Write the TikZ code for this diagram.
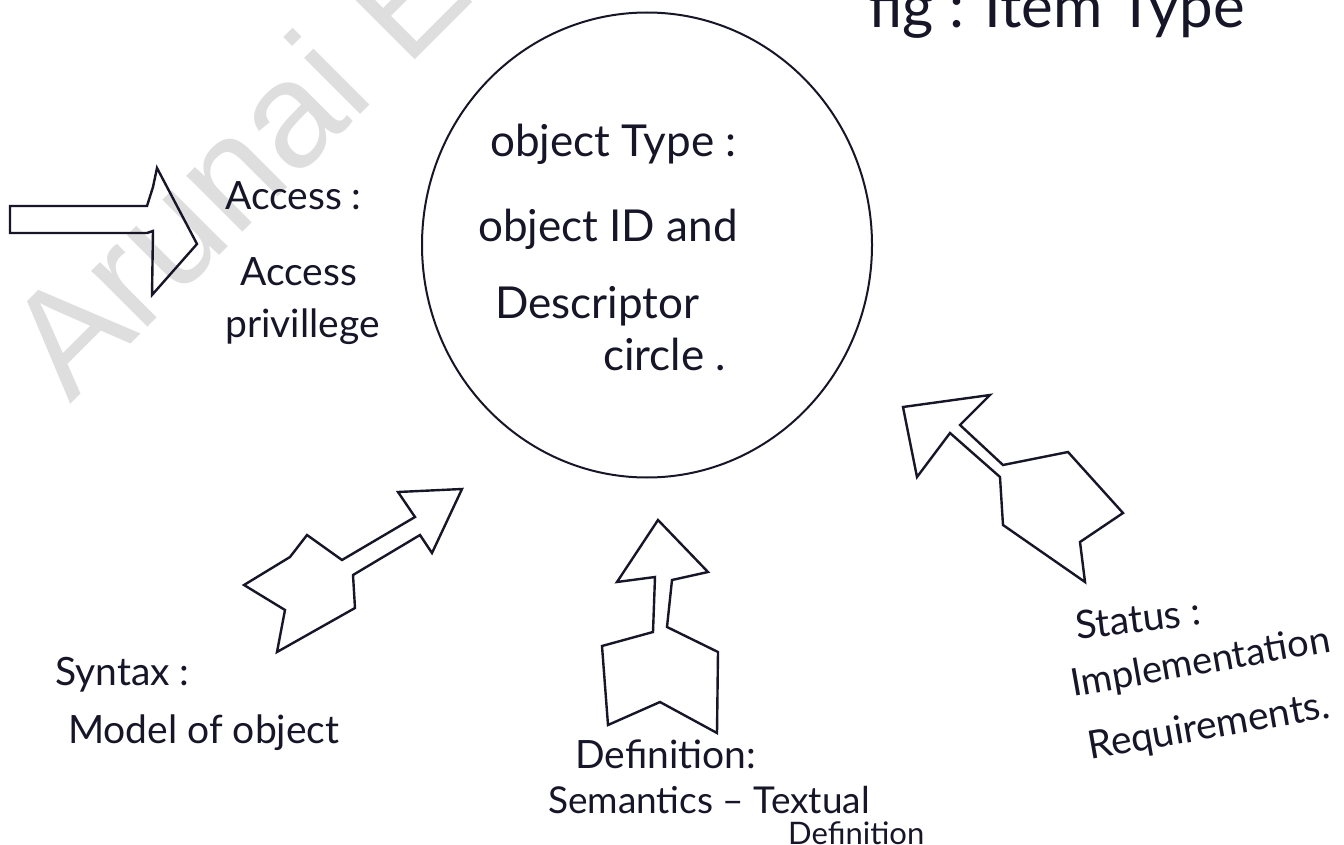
\documentclass[tikz,border=0pt]{standalone}
\usepackage{fontspec}
\usetikzlibrary{shapes.geometric}
\setmainfont{Lato}
\newfontfamily\wmfont{Liberation Sans}
\definecolor{ink}{RGB}{22,22,40}
\definecolor{wmgray}{RGB}{222,222,222}
\tikzset{
  shapeline/.style={draw=ink, line width=2.4pt, line join=miter, line cap=round},
  hand/.style={text=ink, inner sep=0pt, anchor=base west, font=\fontsize{39}{44}\selectfont},
  inhand/.style={hand, font=\fontsize{44}{50}\selectfont},
  wmark/.style={text=wmgray, inner sep=0pt, anchor=base west, font=\wmfont\fontsize{150}{150}\selectfont}
}
\begin{document}
\begin{tikzpicture}[x=1pt, y=-1pt]
\useasboundingbox (0,0) rectangle (1344,845);
\fill[white] (0,0) rectangle (1344,845);
\begin{scope}
\clip (0,0) rectangle (1344,845);

% faint watermark across the upper left
\node[wmark, rotate=45] (wm) at (70,405) {Arunai Engineering College};

% partly visible caption at the top
\node[hand, font=\fontsize{60}{64}\selectfont] (fig) at (868,28) {fig : Item Type};

% descriptor circle
\node[draw=ink, line width=2pt, ellipse, minimum width=450pt, minimum height=465pt, inner sep=0pt] (circ) at (647,245) {};
\node[inhand] (ot1) at (490,157) {object Type :};
\node[inhand] (ot2) at (478,242) {object ID and};
\node[inhand] (ot3) at (495,318) {Descriptor};
\node[inhand] (ot4) at (603,370) {circle .};

% access arrow (left)
\draw[shapeline] (10,233) -- (10,206) -- (147,206) -- (153,187) -- (157,168)
  -- (197,244) -- (152,295) -- (153,231) -- (147,233) -- cycle;
\node[hand] (ac1) at (225,210) {Access :};
\node[hand] (ac2) at (240,285) {Access};
\node[hand] (ac3) at (225,337) {privillege};

% syntax arrow (lower left)
\draw[shapeline] (244,585) -- (290,557) -- (307,535) -- (342,560) -- (415,517)
  -- (398,492) -- (462,489) -- (432,553) -- (420,535) -- (353,575) -- (355,608)
  -- (277,652) -- (285,610) -- cycle;
\node[hand] (sy1) at (55,685) {Syntax :};
\node[hand] (sy2) at (68,743) {Model of object};

% definition arrow (bottom)
\draw[shapeline] (658,520) -- (708,572) -- (672,580) -- (667,627) -- (718,652)
  -- (717,733) -- (660,702) -- (608,725) -- (602,646) -- (653,632) -- (655,577)
  -- (617,582) -- cycle;
\node[hand] (df1) at (575,768) {Definition:};
\node[hand, font=\fontsize{37}{42}\selectfont] (df2) at (548,813) {Semantics – Textual};
\node[hand, font=\fontsize{31}{36}\selectfont] (df3) at (788,844) {Definition};

% status arrow (lower right)
\draw[shapeline] (903,407) -- (990,395) -- (960,425) -- (1003,465) -- (1068,452)
  -- (1123,513) -- (1080,542) -- (1085,582) -- (1003,525) -- (1000,477)
  -- (950,433) -- (917,477) -- cycle;
\node[hand, rotate=7] (st1) at (1077,640) {Status :};
\node[hand, rotate=10, font=\fontsize{38}{42}\selectfont] (st2) at (1073,697) {Implementation};
\node[hand, rotate=10] (st3) at (1090,760) {Requirements.};
\end{scope}
\end{tikzpicture}
\end{document}
